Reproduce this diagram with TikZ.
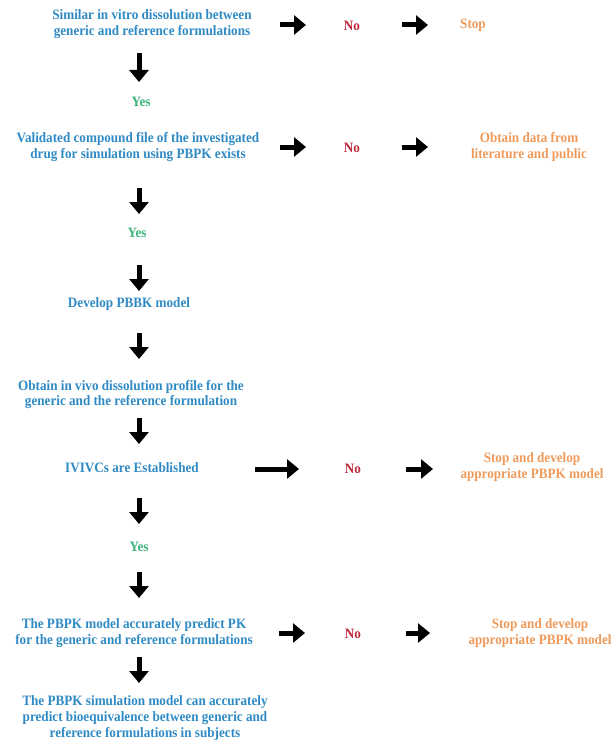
\documentclass[tikz,border=0pt]{standalone}
\usepackage{fontspec}
\setmainfont{Liberation Serif}[FakeStretch=0.92]
\usetikzlibrary{arrows.meta}
\definecolor{tblue}{HTML}{2F8AC4}
\definecolor{tred}{HTML}{C0283C}
\definecolor{torange}{HTML}{EE9A5A}
\definecolor{tgreen}{HTML}{3DB37A}
\begin{document}
\begin{tikzpicture}[x=1pt,y=-1pt,
  txt/.style={font=\bfseries\fontsize{14.3}{15.8}\selectfont, align=center, inner sep=0pt},
  bluetxt/.style={txt, text=tblue},
  redtxt/.style={txt, text=tred},
  orangetxt/.style={txt, text=torange},
  greentxt/.style={txt, text=tgreen},
  blk/.style={line width=5pt, -{Triangle[length=12pt,width=19pt]}}]
\useasboundingbox (0,0) rectangle (613,749);
% texts
\node[bluetxt] (n1) at (152,24.5) {Similar in vitro dissolution between\\generic and reference formulations};
\node[redtxt] (no1) at (352,26) {No};
\node[orangetxt] (stop1) at (473,25) {Stop};
\node[greentxt] (yes1) at (141,102) {Yes};
\node[bluetxt] (n2) at (138,147) {Validated compound file of the investigated\\drug for simulation using PBPK exists};
\node[redtxt] (no2) at (352,148) {No};
\node[orangetxt] (obt) at (529,147) {Obtain data from\\literature and public};
\node[greentxt] (yes2) at (137,233) {Yes};
\node[bluetxt] (n3) at (129,304) {Develop PBBK model};
\node[bluetxt] (n4) at (131,394.5) {Obtain in vivo dissolution profile for the\\generic and the reference formulation};
\node[bluetxt] (n5) at (132,468) {IVIVCs are Established};
\node[redtxt] (no3) at (353,469) {No};
\node[orangetxt] (stop2) at (532,467) {Stop and develop\\appropriate PBPK model};
\node[greentxt] (yes3) at (139,547) {Yes};
\node[bluetxt] (n6) at (134,633) {The PBPK model accurately predict PK\\for the generic and reference formulations};
\node[redtxt] (no4) at (353,634) {No};
\node[orangetxt] (stop3) at (540,633) {Stop and develop\\appropriate PBPK model};
\node[bluetxt] (n7) at (145,718) {The PBPK simulation model can accurately\\predict bioequivalence between generic and\\reference formulations in subjects};
% arrow end points
\coordinate (a1s) at (280,25);  \coordinate (a1e) at (306,25);
\coordinate (a2s) at (402,25);  \coordinate (a2e) at (428,25);
\coordinate (d1s) at (139,53);  \coordinate (d1e) at (139,82);
\coordinate (a3s) at (280,147); \coordinate (a3e) at (306,147);
\coordinate (a4s) at (402,147); \coordinate (a4e) at (428,147);
\coordinate (d2s) at (139,188); \coordinate (d2e) at (139,214);
\coordinate (d3s) at (139,265); \coordinate (d3e) at (139,291);
\coordinate (d4s) at (139,333); \coordinate (d4e) at (139,359);
\coordinate (d5s) at (139,418); \coordinate (d5e) at (139,444);
\coordinate (a5s) at (255,469); \coordinate (a5e) at (299,469);
\coordinate (a6s) at (406,469); \coordinate (a6e) at (433,469);
\coordinate (d6s) at (139,498); \coordinate (d6e) at (139,524);
\coordinate (d7s) at (139,572); \coordinate (d7e) at (139,598);
\coordinate (a7s) at (279,633); \coordinate (a7e) at (305,633);
\coordinate (a8s) at (406,633); \coordinate (a8e) at (430,633);
\coordinate (d8s) at (139,657); \coordinate (d8e) at (139,683);
\foreach \a in {a1,a2,a3,a4,a5,a6,a7,a8,d1,d2,d3,d4,d5,d6,d7,d8}
  \draw[blk] (\a s) -- (\a e);
\end{tikzpicture}
\end{document}
